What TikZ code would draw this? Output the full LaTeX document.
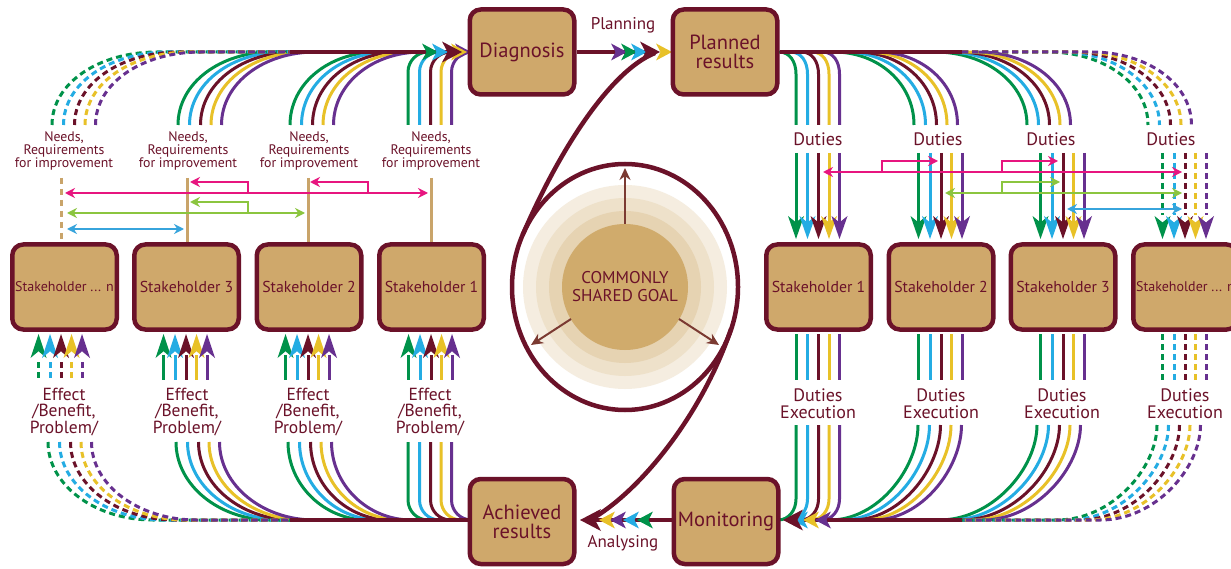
\documentclass[tikz,border=0pt]{standalone}
\usepackage{fontspec}
\setmainfont{PT Sans}
\usetikzlibrary{arrows.meta}
\definecolor{mar}{HTML}{6B1229}
\definecolor{tanf}{HTML}{CFA86B}
\definecolor{cg}{HTML}{00924A}
\definecolor{cb}{HTML}{24ACE3}
\definecolor{cy}{HTML}{E8C128}
\definecolor{cp}{HTML}{67308F}
\definecolor{mag}{HTML}{E7157F}
\definecolor{lgr}{HTML}{8BC53F}
\definecolor{lblue}{HTML}{37A4DC}
\definecolor{tline}{HTML}{C9A46A}
\definecolor{brn}{HTML}{7B3A32}
\definecolor{ra}{HTML}{F5EDE0}
\definecolor{rb}{HTML}{EEE1CA}
\definecolor{rc}{HTML}{E6D3B2}
\definecolor{rd}{HTML}{D0AB6C}
\newcommand\ahR[5]{\fill[#1] (#2,#3) -- ++(-#4,-#5) -- ++(0.28*#4,#5) -- ++(-0.28*#4,#5) -- cycle;}
\newcommand\ahL[5]{\fill[#1] (#2,#3) -- ++(#4,-#5) -- ++(-0.28*#4,#5) -- ++(0.28*#4,#5) -- cycle;}
\newcommand\ahD[5]{\fill[#1] (#2,#3) -- ++(-#5,-#4) -- ++(#5,0.28*#4) -- ++(#5,-0.28*#4) -- cycle;}
\newcommand\ahU[5]{\fill[#1] (#2,#3) -- ++(-#5,#4) -- ++(#5,-0.28*#4) -- ++(#5,0.28*#4) -- cycle;}
\def\cols{cg/0,cb/11.5,mar/22.5,cy/33,cp/43.5}
\begin{document}
\begin{tikzpicture}[x=1pt,y=-1pt,
  box/.style={draw=mar, line width=4.5pt, fill=tanf, rounded corners=11pt, minimum width=104.5pt, minimum height=85pt, inner sep=0pt, text=mar, align=center, font=\fontsize{20.5}{19}\selectfont},
  sbox/.style={box, font=\fontsize{15.8}{18}\selectfont},
  lw/.style={line width=3pt},
  dsh/.style={dash pattern=on 6pt off 4pt},
  lab/.style={text=mar, align=center, inner sep=0pt},
  main/.style={mar, line width=4.5pt},
  dbl/.style={line width=2pt, {Stealth[length=10pt,width=10pt]}-{Stealth[length=10pt,width=10pt]}},
  sgl/.style={line width=2pt, -{Stealth[length=10pt,width=10pt]}},
]
\useasboundingbox (0,0) rectangle (1231,569);
\clip (0,0) rectangle (1231,569);
\fill[white] (0,0) rectangle (1231,569);

% ---- centre goal
\fill[ra] (625,287) circle[radius=102pt];
\fill[rb] (625,287) circle[radius=89pt];
\fill[rc] (625,287) circle[radius=76pt];
\fill[rd] (625,287) circle[radius=63pt];
\node[lab, font=\fontsize{17}{18}\selectfont] (goal) at (625,287) {COMMONLY\\SHARED GOAL};
\draw[brn, line width=2pt, -{Stealth[length=12pt,width=11pt]}] (625,224) -- (625,168);
\draw[brn, line width=2pt, -{Stealth[length=12pt,width=11pt]}] (571,319) -- (531,345);
\draw[brn, line width=2pt, -{Stealth[length=12pt,width=11pt]}] (679,319) -- (719,345);
\draw[main] (625,287) ellipse[x radius=113pt, y radius=123pt];
\draw[main] (522.6,235) .. controls (561,146) and (612,70) .. (655,53);
\draw[main] (731,329) .. controls (704,410) and (643,490) .. (590,520);

% ---- top left: needs
\foreach \xs/\H in {178/94, 290/88} {
  \foreach \c/\o in \cols
    \draw[lw,\c] (\xs+\o,125) .. controls +(0,-42) and +(-0.55*\H,0) .. (\xs+\o+\H,52) -- (455,52);
}
\foreach \c/\o in \cols
  \draw[lw,\c,dsh] (52+\o,125) .. controls +(0,-42) and +(-58,0) .. (157+\o,52) -- (292,52);
\foreach \c/\o/\t in {cg/0/438, cb/11.5/448, cy/33/467, cp/43.5/471, mar/22.5/462}
  \draw[lw,\c] (408+\o,125) -- (408+\o,72) .. controls +(0,-11) and +(-11,0) .. (428+\o,52) -- (\t-10,52);
\draw[main] (290,52) -- (455,52);
\ahR{cg}{438}{52}{16}{8.5}
\ahR{cb}{448}{52}{16}{8.5}
\ahR{cp}{471}{52}{16}{8.5}
\ahR{cy}{467}{52}{16}{8.5}
\ahR{mar}{462}{52}{20}{10.5}

% ---- planning arrow
\draw[main] (577,52) -- (650,52);
\ahR{cp}{627}{52}{16}{8.5}
\ahR{cg}{637}{52}{16}{8.5}
\ahR{cb}{647}{52}{16}{8.5}
\ahR{mar}{660}{52}{20}{10.5}
\ahR{cy}{672}{52}{16}{8.5}

% ---- top right: duties
\foreach \c/\o in \cols
  \draw[lw,\c] (779+\o,52) .. controls +(11,0) and +(0,-12) .. (796+\o,74) -- (796+\o,125);
\foreach \xs/\H in {914/80, 1027/92} {
  \foreach \c/\o in \cols
    \draw[lw,\c] (\xs+\o-\H,52) .. controls +(0.55*\H,0) and +(0,-42) .. (\xs+\o,125);
}
\foreach \c/\o in \cols
  \draw[lw,\c,dsh] (962,52) -- (1048+\o,52) .. controls +(55,0) and +(0,-42) .. (1148+\o,125);
\draw[main] (780,52) -- (962,52);
\foreach \cx in {818.5,941,1063} {
  \foreach \c/\o in \cols {
    \draw[lw,\c] (\cx-22.5+\o,153) -- (\cx-22.5+\o,222);
    \ahD{\c}{\cx-22.5+\o}{239}{23}{8}
  }
}
\foreach \c/\o in \cols {
  \draw[lw,\c,dsh] (1162.5+\o,153) -- (1162.5+\o,215);
  \ahD{\c}{1162.5+\o}{239}{23}{8}
}

% ---- bottom right: duties execution
\foreach \cx in {818.5,941,1063}
  \foreach \c/\o in \cols
    \draw[lw,\c] (\cx-22.5+\o,334) -- (\cx-22.5+\o,380);
\foreach \c/\o in \cols
  \draw[lw,\c,dsh] (1162.5+\o,334) -- (1162.5+\o,380);
\foreach \c/\o in \cols
  \draw[lw,\c] (796+\o,425) -- (796+\o,499) .. controls +(0,11) and +(11,0) .. (778+\o,520);
\foreach \xs/\H in {918/88, 1037/98} {
  \foreach \c/\o in \cols
    \draw[lw,\c] (\xs+\o,425) .. controls +(0,43) and +(0.55*\H,0) .. (\xs+\o-\H,520) -- (790,520);
}
\foreach \c/\o in \cols
  \draw[lw,\c,dsh] (1157+\o,425) .. controls +(0,43) and +(55,0) .. (1057+\o,520) -- (962,520);
\draw[main] (962,520) -- (790,520);
\ahL{cp}{815}{520}{16}{8.5}
\ahL{cy}{803}{520}{16}{8.5}
\ahL{cb}{792}{520}{16}{8.5}
\ahL{cg}{784}{520}{16}{8.5}
\ahL{mar}{783}{520}{20}{10.5}

% ---- analysing arrow
\draw[main] (672,520) -- (590,520);
\ahL{cg}{637}{520}{16}{8.5}
\ahL{cb}{623}{520}{16}{8.5}
\ahL{cp}{610}{520}{16}{8.5}
\ahL{cy}{599}{520}{16}{8.5}
\ahL{mar}{580}{520}{21}{11}

% ---- bottom left: effect
\foreach \cx in {186,308,431} {
  \foreach \c/\o in \cols {
    \draw[lw,\c] (\cx-22.5+\o,355) -- (\cx-22.5+\o,380);
    \ahU{\c}{\cx-22.5+\o}{334}{24}{8}
  }
}
\foreach \c/\o in \cols {
  \draw[lw,\c,dsh] (38.5+\o,362) -- (38.5+\o,380);
  \ahU{\c}{38.5+\o}{334}{24}{8}
}
\foreach \c/\o in \cols
  \draw[lw,\c] (408+\o,442) -- (408+\o,500) .. controls +(0,11) and +(-11,0) .. (428+\o,520) -- (468,520);
\foreach \xs/\H in {176/95, 288/80} {
  \foreach \c/\o in \cols
    \draw[lw,\c] (\xs+\o,442) .. controls +(0,43) and +(-0.55*\H,0) .. (\xs+\o+\H,520) -- (460,520);
}
\foreach \c/\o in \cols
  \draw[lw,\c,dsh] (48+\o,442) .. controls +(0,43) and +(-58,0) .. (153+\o,520) -- (292,520);
\draw[main] (468,520) -- (290,520);

% ---- boxes
\node[box] (diag) at (522,52) {Diagnosis};
\node[box] (plan) at (725,52) {Planned\\results};
\node[box] (ach) at (522,521.5) {Achieved\\results};
\node[box] (mon) at (726,521.5) {Monitoring};
\node[sbox, font=\fontsize{14}{16}\selectfont] (ln) at (64.5,287) {Stakeholder ... n};
\node[sbox] (l3) at (186.5,287) {Stakeholder 3};
\node[sbox] (l2) at (309,287) {Stakeholder 2};
\node[sbox] (l1) at (431.5,287) {Stakeholder 1};
\node[sbox] (r1) at (818.5,287) {Stakeholder 1};
\node[sbox] (r2) at (941,287) {Stakeholder 2};
\node[sbox] (r3) at (1063,287) {Stakeholder 3};
\node[sbox, font=\fontsize{14}{16}\selectfont] (rn) at (1185.5,287) {Stakeholder ... n};

% ---- labels
\node[lab, font=\fontsize{17}{18}\selectfont] (planning) at (623,25) {Planning};
\node[lab, font=\fontsize{17}{18}\selectfont] (analysing) at (623,543) {Analysing};
\foreach \x/\n in {64/a,188/b,309/c,431/d}
  \node[lab, font=\fontsize{13.8}{13}\selectfont] (need\n) at (\x,151) {Needs,\\Requirements\\for improvement};
\foreach \x/\n in {64/a,187/b,308/c,430/d}
  \node[lab, font=\fontsize{17.5}{16.5}\selectfont] (eff\n) at (\x,412) {Effect\\/Benefit,\\Problem/};
\foreach \x/\n in {818/a,938/b,1051/c,1171/d}
  \node[lab, font=\fontsize{18}{17}\selectfont] (dut\n) at (\x,139) {Duties};
\foreach \x/\n in {818/a,941/b,1062/c,1185/d}
  \node[lab, font=\fontsize{18}{17}\selectfont] (dex\n) at (\x,403.5) {Duties\\Execution};

% ---- left relation arrows
\draw[tline, line width=3pt, dash pattern=on 6pt off 5pt] (61,178) -- (61,242);
\foreach \x in {187,308,431}
  \draw[tline, line width=3pt] (\x,178) -- (\x,242);
\draw[mag, dbl] (65,193) -- (428,193);
\draw[mag, sgl] (368,193) -- (368,182) -- (310,182);
\draw[mag, sgl] (248,193) -- (248,182) -- (190,182);
\draw[lgr, dbl] (67,213) -- (305,213);
\draw[lgr, sgl] (248,213) -- (248,202) -- (190,202);
\draw[lblue, dbl] (67,229) -- (184,229);

% ---- right relation arrows
\draw[mag, dbl] (823,172) -- (1182,172);
\draw[mag, sgl] (882,172) -- (882,161) -- (938,161);
\draw[mag, sgl] (1002,172) -- (1002,161) -- (1058,161);
\draw[lgr, dbl] (945,193) -- (1182,193);
\draw[lgr, sgl] (1002,193) -- (1002,182) -- (1060,182);
\draw[lblue, dbl] (1067,209) -- (1182,209);
\end{tikzpicture}
\end{document}
